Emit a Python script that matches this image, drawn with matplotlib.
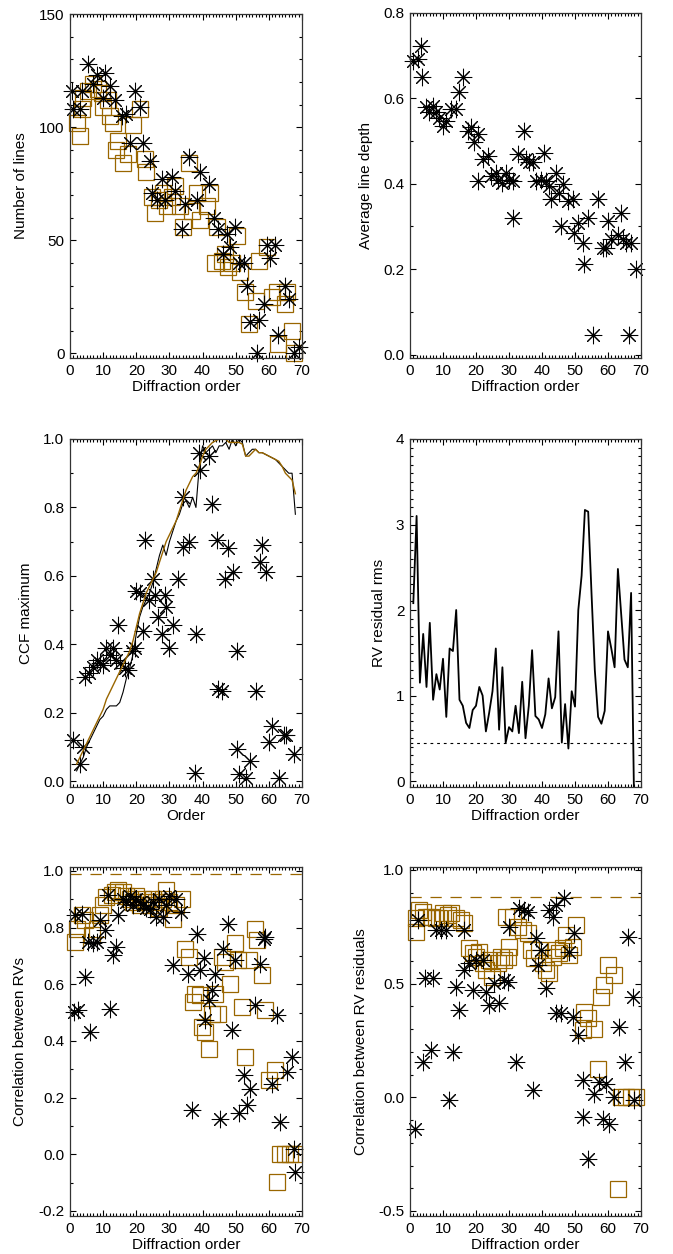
import matplotlib
matplotlib.use("Agg")
import matplotlib.pyplot as plt
from matplotlib.ticker import MultipleLocator, FormatStrFormatter

plt.rcParams['font.family'] = ['Liberation Sans', 'DejaVu Sans']
plt.rcParams['font.size'] = 11
plt.rcParams['axes.unicode_minus'] = False

BROWN = '#996600'
STAR = (8, 2, 0)

# ---- panel 1: number of lines
p1_star_x = [0.5, 1, 3, 3.5, 5.5, 7, 8, 10, 10.6, 12, 13.6, 15.6, 17, 18, 19.6, 21, 22, 24.2, 24.7,
             26.2, 27.7, 28.7, 30.7, 31.7, 33.7, 34.7, 35.8, 38.3, 39.3, 41.8, 43.3, 44.8, 46.3,
             47.3, 48.3, 49.8, 50.9, 52.4, 53.4, 54.4, 56.4, 56.9, 58.4, 59.4, 60.4, 61.9, 62.9,
             65, 66, 67.5, 69]
p1_star_y = [116, 108, 108, 116, 128, 119, 123, 113, 124, 118, 112, 105, 106, 93, 116, 109, 93, 85, 71,
             68, 77, 68, 78, 72, 55, 66, 87, 68, 80, 75, 60, 55, 44,
             53, 47, 56, 40, 40, 30, 14, 0, 15, 22, 48, 42, 48, 8,
             30, 24, 0, 3]
p1_sq_x = [2, 3, 3.5, 4, 5.5, 7, 8.5, 9.6, 10, 11.6, 12, 13, 14.6, 14, 16, 17.6, 19, 21, 22.7, 23,
           24.7, 25.7, 27, 28.2, 29.2, 30.7, 31.7, 33.2, 34.2, 35.8, 36.8, 38.3, 39.3, 41.3, 42.3,
           44.3, 43.8, 45.8, 46.8, 47.8, 48.8, 50.4, 51.4, 52.9, 53.9, 56, 56.9, 59.4, 61, 62.4,
           62.9, 65, 65.5, 67, 67.5]
p1_sq_y = [102, 96, 108, 113, 116, 119, 117, 115, 109, 112, 105, 102, 94, 90, 84, 88, 101, 108, 86, 80,
           69, 62, 68, 71, 65, 69, 74, 65, 56, 84, 63, 71, 59, 65, 71,
           56, 40, 41, 44, 38, 40, 52, 36, 27, 13, 23, 41, 47, 25, 27,
           4, 22, 27, 10, 0]

# ---- panel 2: average line depth
p2_x = [0.8, 2.3, 3.3, 3.6, 4.8, 5.9, 6.9, 7.9, 8.9, 9.9, 10.9, 12.4, 13.9, 15, 16, 17.5, 18.5, 19.5,
        20.5, 20.5, 22, 23.5, 24.6, 26, 26.6, 28, 29, 30.1, 31.1, 31.1, 32.6, 34.6, 35.2, 36.2, 37.2,
        38.2, 39.7, 40.7, 41.2, 42.2, 42.7, 44.2, 45.3, 46.3, 45.8, 47.8, 49.3, 49.8, 50.8, 52.3,
        52.8, 53.8, 55.5, 56.9, 58.4, 59.4, 59.9, 60.9, 62.9, 63.9, 64.4, 65.5, 67, 66.5, 68.5]
p2_y = [0.688, 0.692, 0.723, 0.649, 0.579, 0.567, 0.583, 0.567, 0.555, 0.536, 0.547, 0.575, 0.575,
        0.614, 0.649, 0.524, 0.532, 0.497, 0.516, 0.407, 0.457, 0.465, 0.418, 0.426, 0.41, 0.403,
        0.426, 0.41, 0.407, 0.321, 0.469, 0.524, 0.457, 0.45, 0.45, 0.407, 0.41, 0.473, 0.407,
        0.395, 0.364, 0.426, 0.379, 0.399, 0.301, 0.36, 0.364, 0.285, 0.309, 0.262, 0.211, 0.321,
        0.047, 0.364, 0.25, 0.25, 0.313, 0.27, 0.281, 0.332, 0.27, 0.262, 0.262, 0.047, 0.2]

# ---- panel 3: CCF maximum
p3_order = list(range(2, 69))
p3_brown = [0.05, 0.07, 0.09, 0.11, 0.13, 0.15, 0.17, 0.19, 0.21, 0.24, 0.26, 0.28, 0.30, 0.32,
            0.34, 0.36, 0.38, 0.41, 0.45, 0.49, 0.52, 0.55, 0.57, 0.59, 0.61, 0.64, 0.67, 0.70,
            0.72, 0.74, 0.76, 0.79, 0.82, 0.85, 0.87, 0.89, 0.90, 0.92, 0.95, 0.97, 0.98, 0.99,
            0.995, 1.0, 1.0, 1.0, 0.99, 0.99, 0.99, 0.99, 0.985, 0.95, 0.95, 0.96, 0.97, 0.96,
            0.96, 0.955, 0.95, 0.945, 0.94, 0.935, 0.92, 0.90, 0.89, 0.88, 0.84]
p3_black = [0.03, 0.05, 0.07, 0.10, 0.12, 0.14, 0.16, 0.18, 0.19, 0.21, 0.22, 0.22, 0.22, 0.23,
            0.26, 0.30, 0.33, 0.37, 0.43, 0.48, 0.51, 0.53, 0.55, 0.58, 0.62, 0.66, 0.69, 0.66,
            0.70, 0.73, 0.76, 0.78, 0.81, 0.82, 0.80, 0.83, 0.80, 0.92, 0.98, 0.96, 0.97, 0.98,
            0.96, 0.98, 0.98, 0.99, 0.97, 1.0, 0.98, 1.0, 0.99, 0.95, 0.96, 0.97, 0.97, 0.96,
            0.96, 0.955, 0.95, 0.945, 0.94, 0.93, 0.92, 0.91, 0.90, 0.90, 0.78]
p3_x = [1, 3, 4, 4.5, 5.8, 7, 8, 9, 10, 11, 12, 13, 14, 14.6, 15, 16.6, 17.6, 18.6, 19.6, 20, 21,
        22.7, 22, 23.7, 25, 25.7, 26.7, 27.7, 28.7, 29, 30, 31, 32.7, 34.2, 34, 35.8, 37.8, 38,
        38.8, 39.3, 41.8, 42.8, 44.3, 44.8, 45.8, 46.8, 47.8, 49.3, 50.4, 50.4, 51, 53, 54.4, 56,
        57.4, 58, 59, 60, 61, 63, 64.5, 65.3, 67.5]
p3_y = [0.12, 0.05, 0.10, 0.305, 0.315, 0.335, 0.355, 0.345, 0.34, 0.39, 0.37, 0.39, 0.355, 0.455,
        0.345, 0.33, 0.325, 0.38, 0.39, 0.555, 0.55, 0.705, 0.44, 0.53, 0.59, 0.545, 0.48, 0.43,
        0.545, 0.51, 0.39, 0.455, 0.59, 0.685, 0.83, 0.70, 0.025, 0.43, 0.96, 0.91, 0.95, 0.81,
        0.705, 0.27, 0.265, 0.59, 0.68, 0.61, 0.38, 0.095, 0.02, 0.01, 0.06, 0.265, 0.64, 0.69,
        0.61, 0.115, 0.16, 0.01, 0.135, 0.135, 0.08]

# ---- panel 4: RV residual rms
p4_order = list(range(1, 69))
p4_rms = [2.08, 3.1, 1.15, 1.72, 1.1, 1.85, 0.95, 1.25, 1.07, 1.43, 0.75, 1.55, 1.52, 2.0, 0.95,
          0.88, 0.68, 0.62, 0.83, 0.88, 1.1, 1.0, 0.58, 0.8, 1.05, 1.55, 0.6, 1.33, 0.45, 0.63,
          0.58, 0.88, 0.56, 1.16, 0.5, 0.88, 1.53, 0.76, 0.72, 0.62, 0.78, 1.2, 0.85, 0.98, 1.75,
          0.45, 0.9, 0.38, 1.05, 0.87, 2.0, 2.4, 3.17, 3.15, 2.2, 1.3, 0.75, 0.67, 0.82, 1.75,
          1.55, 1.33, 2.48, 1.95, 1.42, 1.33, 2.2, -0.5]
p4_level = 0.45

# ---- panel 5: correlation between RVs
p5_star_x = [1.5, 1.2, 2.5, 3.5, 4.5, 5.5, 6, 7, 8, 9, 10.6, 11.6, 12, 13, 14, 14.6, 16, 17, 18, 19,
             20, 21, 22, 23, 24, 25, 26, 27, 28, 29, 30, 31, 32, 33.6, 35.6, 36.8, 38.3, 39.3,
             40.3, 40.8, 41.8, 42.8, 43.8, 45.3, 46.3, 47.8, 48.8, 49.8, 50.9, 52.4, 53.4, 54.4,
             55.9, 57.4, 58.4, 58.9, 60.9, 62.4, 63.4, 65.5, 67, 67.5, 68]
p5_star_y = [0.844, 0.502, 0.508, 0.849, 0.626, 0.749, 0.432, 0.744, 0.749, 0.826, 0.791, 0.914,
             0.514, 0.702, 0.732, 0.844, 0.90, 0.89, 0.91, 0.88, 0.90, 0.89, 0.88, 0.87, 0.867,
             0.89, 0.838, 0.90, 0.838, 0.88, 0.91, 0.667, 0.90, 0.855, 0.638, 0.155, 0.779,
             0.649, 0.691, 0.473, 0.544, 0.579, 0.638, 0.126, 0.726, 0.814, 0.438, 0.685, 0.144,
             0.279, 0.173, 0.232, 0.526, 0.673, 0.761, 0.767, 0.249, 0.491, 0.114, 0.291, 0.344,
             0.02, -0.062]
p5_sq_x = [1.5, 2, 3.5, 4.5, 6.5, 8, 9, 10, 11, 12.6, 13.6, 14.6, 16.1, 17, 18, 19, 20, 21, 22, 23,
           24, 25, 26, 27, 28, 29, 30, 31, 32, 33.7, 34.8, 35.8, 37, 37.8, 39.3, 39.8, 40.8, 41.8,
           42.8, 43.8, 44.8, 45.8, 46.8, 48.3, 49.8, 50.8, 51.9, 52.9, 53.9, 55.9, 56.4, 57.9,
           58.9, 59.9, 61.9, 62.4, 63.4, 64.9, 66.5, 67.5]
p5_sq_y = [0.749, 0.796, 0.844, 0.826, 0.773, 0.796, 0.844, 0.879, 0.908, 0.914, 0.926, 0.932,
           0.926, 0.91, 0.90, 0.89, 0.91, 0.88, 0.90, 0.89, 0.88, 0.90, 0.89, 0.87, 0.90, 0.932,
           0.89, 0.832, 0.88, 0.902, 0.726, 0.696, 0.538, 0.567, 0.561, 0.449, 0.432, 0.373,
           0.496, 0.567, 0.496, 0.696, 0.679, 0.602, 0.744, 0.685, 0.52, 0.344, 0.685, 0.796,
           0.755, 0.632, 0.508, 0.261, 0.296, -0.098, 0.0, 0.0, 0.0, 0.0]
p5_level = 0.99

# ---- panel 6: correlation between RV residuals
p6_star_x = [1.6, 2.3, 4, 4.6, 6.4, 6.9, 7.9, 9.4, 10.9, 11.9, 13.1, 14, 15, 16.5, 16.5, 18, 19, 20,
             22.1, 23, 24, 25.6, 27, 28.6, 29.6, 30.1, 32.1, 33.1, 34.6, 35.7, 37.2, 38.2, 38.7,
             39.7, 41.2, 42.2, 43.2, 44.2, 46.8, 44.2, 45.8, 48.3, 49.3, 49.8, 50.8, 52.3, 52.3,
             53.8, 55.8, 57.4, 58.4, 59.4, 60.4, 61.9, 63.4, 65, 66, 67.5, 68]
p6_star_y = [-0.138, 0.78, 0.156, 0.523, 0.207, 0.523, 0.736, 0.736, 0.736, -0.013, 0.2, 0.486,
             0.383, 0.736, 0.56, 0.589, 0.471, 0.604, 0.604, 0.464, 0.405, 0.501, 0.413, 0.515,
             0.508, 0.75, 0.156, 0.831, 0.824, 0.816, 0.031, 0.699, 0.581, 0.648, 0.479, 0.824,
             0.794, 0.846, 0.875, 0.369, 0.369, 0.64, 0.354, 0.721, 0.273, 0.075, -0.087, -0.27,
             0.016, 0.068, -0.094, 0.06, -0.116, 0.001, 0.31, 0.156, 0.706, 0.442, -0.013]
p6_sq_x = [1.8, 1.8, 2.8, 3.8, 4.8, 6.4, 7.9, 8.9, 9.9, 11.4, 12.4, 13.9, 15.5, 16.5, 18, 19, 20, 21,
           22.1, 23, 24, 25, 26.6, 27.6, 28.6, 29.6, 29.1, 30.1, 31.1, 32.6, 34.1, 35.7, 36.7,
           37.6, 39.2, 40.2, 41.2, 42.2, 43.2, 44.2, 45.3, 46.3, 47.3, 48.3, 49.3, 50.3, 52.8,
           53.8, 55.9, 52.3, 56.9, 57.9, 58.9, 59.9, 61.9, 62.9, 63.9, 65.5, 67, 68.5]
p6_sq_y = [0.787, 0.728, 0.824, 0.816, 0.794, 0.794, 0.787, 0.787, 0.809, 0.802, 0.809, 0.787,
           0.78, 0.765, 0.655, 0.633, 0.618, 0.64, 0.589, 0.559, 0.604, 0.53, 0.589, 0.618,
           0.604, 0.618, 0.794, 0.662, 0.794, 0.75, 0.736, 0.721, 0.648, 0.611, 0.648, 0.589,
           0.559, 0.545, 0.618, 0.648, 0.633, 0.655, 0.714, 0.626, 0.662, 0.758, 0.376, 0.347,
           0.302, 0.295, 0.126, 0.442, 0.493, 0.581, 0.537, -0.402, 0.0, 0.0, 0.0, 0.0]
p6_level = 0.88

fig = plt.figure(figsize=(6.73, 12.54), dpi=100)
W, H = 673.0, 1254.0


def make_ax(l, r, t, b, ylim, major, minor, fmt, ylabel, lab_x, xlabel='Diffraction order'):
    ax = fig.add_axes([l / W, 1 - b / H, (r - l) / W, (b - t) / H])
    ax.set_xlim(0, 70)
    ax.set_ylim(*ylim)
    ax.xaxis.set_major_locator(MultipleLocator(10))
    ax.xaxis.set_minor_locator(MultipleLocator(1))
    ax.yaxis.set_major_locator(MultipleLocator(major))
    ax.yaxis.set_minor_locator(MultipleLocator(minor))
    ax.yaxis.set_major_formatter(FormatStrFormatter(fmt))
    ax.tick_params(which='both', direction='in', top=True, right=True, width=0.8)
    ax.tick_params(which='major', length=4.5, pad=4, labelsize=11)
    ax.tick_params(which='minor', length=2.2)
    for s in ax.spines.values():
        s.set_linewidth(0.9)
        s.set_color('#333333')
    ax.set_xlabel(xlabel, labelpad=2)
    ax.set_ylabel(ylabel)
    ax.yaxis.set_label_coords(lab_x, 0.5)
    return ax


def stars(ax, x, y):
    ax.plot(x, y, linestyle='none', marker=STAR, markersize=12.5, markeredgewidth=0.75,
            color='black', clip_on=False)


def squares(ax, x, y):
    ax.plot(x, y, linestyle='none', marker='s', markersize=11.5, markeredgewidth=0.9,
            markerfacecolor='none', markeredgecolor=BROWN, clip_on=False)


ax1 = make_ax(70, 302, 14, 358, (-2, 150), 50, 10, '%d', 'Number of lines', -0.181)
squares(ax1, p1_sq_x, p1_sq_y)
stars(ax1, p1_star_x, p1_star_y)

ax2 = make_ax(410, 641, 13, 358, (-0.008, 0.8), 0.2, 0.1, '%.1f', 'Average line depth', -0.161)
stars(ax2, p2_x, p2_y)

ax3 = make_ax(70, 302, 439, 787, (-0.017, 1.0), 0.2, 0.1, '%.1f', 'CCF maximum', -0.159,
              xlabel='Order')
stars(ax3, p3_x, p3_y)
ax3.plot(p3_order, p3_black, color='black', linewidth=0.8)
ax3.plot(p3_order, p3_brown, color=BROWN, linewidth=1.0)

ax4 = make_ax(410, 641, 439, 787, (-0.07, 4.0), 1, 0.1, '%d', 'RV residual rms', -0.104)
ax4.plot(p4_order, p4_rms, color='black', linewidth=1.3)
ax4.axhline(p4_level, color='black', linewidth=0.8, linestyle=(0, (2.5, 3.5)))

ax5 = make_ax(70, 302, 867, 1216, (-0.218, 1.014), 0.2, 0.1, '%.1f',
              'Correlation between RVs', -0.187)
ax5.axhline(p5_level, color=BROWN, linewidth=0.9, linestyle=(0, (9, 7)))
squares(ax5, p5_sq_x, p5_sq_y)
stars(ax5, p5_star_x, p5_star_y)

ax6 = make_ax(410, 641, 867, 1216, (-0.522, 1.013), 0.5, 0.1, '%.1f',
              'Correlation between RV residuals', -0.183)
ax6.axhline(p6_level, color=BROWN, linewidth=0.9, linestyle=(0, (9, 7)))
squares(ax6, p6_sq_x, p6_sq_y)
stars(ax6, p6_star_x, p6_star_y)

fig.savefig('out.png', dpi=100)
